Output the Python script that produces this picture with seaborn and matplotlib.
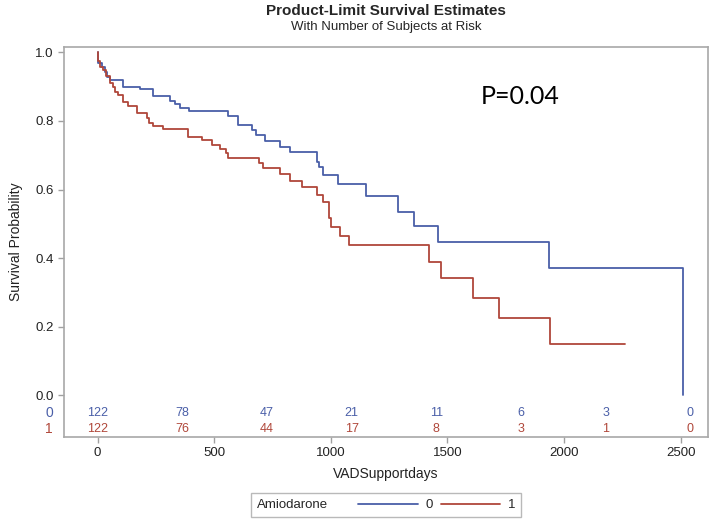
import pandas as pd
import seaborn as sns
import matplotlib.pyplot as plt
from matplotlib.lines import Line2D
from matplotlib.offsetbox import HPacker

# Kaplan-Meier steps (day, survival after the step)
days_0 = [0, 1, 3, 17, 31, 42, 53, 111, 182, 236, 311, 332, 354, 393, 558, 600, 661, 679,
          718, 782, 825, 939, 951, 965, 1032, 1150, 1287, 1356, 1461, 1934, 2510]
surv_0 = [1.0, 0.987, 0.968, 0.958, 0.943, 0.929, 0.919, 0.90, 0.892, 0.872, 0.859, 0.849,
          0.838, 0.828, 0.814, 0.787, 0.774, 0.759, 0.742, 0.723, 0.708, 0.681, 0.667, 0.641,
          0.616, 0.581, 0.535, 0.493, 0.446, 0.371, 0.0]

days_1 = [0, 1, 10, 24, 38, 53, 67, 75, 89, 111, 132, 168, 211, 222, 239, 282, 389, 446,
          489, 525, 549, 561, 694, 711, 782, 825, 875, 939, 965, 993, 1000, 1039, 1079,
          1420, 1474, 1609, 1721, 1938, 2259]
surv_1 = [1.0, 0.973, 0.958, 0.948, 0.931, 0.91, 0.898, 0.885, 0.876, 0.856, 0.842, 0.822,
          0.808, 0.795, 0.786, 0.777, 0.754, 0.745, 0.73, 0.717, 0.706, 0.693, 0.677, 0.664,
          0.645, 0.626, 0.607, 0.584, 0.563, 0.516, 0.492, 0.465, 0.437, 0.39, 0.342, 0.285,
          0.225, 0.151, 0.151]

# number at risk table
risk_days = [0, 363, 726, 1089, 1452, 1815, 2178, 2541]
risk_0 = [122, 78, 47, 21, 11, 6, 3, 0]
risk_1 = [122, 76, 44, 17, 8, 3, 1, 0]

groups = ['0', '1']
colors = {'0': '#4A5FA8', '1': '#B0473A'}

df = pd.concat([
    pd.DataFrame({'VADSupportdays': days_0, 'Survival': surv_0, 'Amiodarone': '0'}),
    pd.DataFrame({'VADSupportdays': days_1, 'Survival': surv_1, 'Amiodarone': '1'}),
])

sns.set_style('white')
plt.rcParams['font.family'] = ['Liberation Sans', 'DejaVu Sans']

fig = plt.figure(figsize=(7.09, 5.26), dpi=100)
ax = fig.add_axes([0.0903, 0.1698, 0.9083, 0.7414])

sns.lineplot(data=df, x='VADSupportdays', y='Survival', hue='Amiodarone',
             palette=colors, estimator=None, drawstyle='steps-post',
             linewidth=1.3, ax=ax, legend=False)

ax.set_xlim(-144, 2617)
ax.set_ylim(-0.12, 1.016)
ax.set_xticks([0, 500, 1000, 1500, 2000, 2500])
ax.set_yticks([0.0, 0.2, 0.4, 0.6, 0.8, 1.0])
ax.set_yticklabels(['0.0', '0.2', '0.4', '0.6', '0.8', '1.0'])
ax.tick_params(axis='both', length=4, width=1, color='#A0A0A0', labelsize=9.5,
               labelcolor='#222222', direction='out', bottom=True, left=True)
for s in ax.spines.values():
    s.set_color('#A8A8A8')
    s.set_linewidth(1.2)
ax.set_xlabel('VADSupportdays', fontsize=10, color='#222222', labelpad=6)
ax.set_ylabel('Survival Probability', fontsize=10, color='#222222', labelpad=9)

# at-risk rows
for g, counts, yrow in [('0', risk_0, -0.052), ('1', risk_1, -0.098)]:
    for d, n in zip(risk_days, counts):
        ax.text(d, yrow, str(n), color=colors[g], fontsize=9, ha='center', va='center')
    ax.text(-0.023, yrow, g, color=colors[g], fontsize=10, ha='center', va='center',
            transform=ax.get_yaxis_transform())

ax.text(1811, 0.87, 'P=0.04', fontsize=18, family=['Lato', 'DejaVu Sans'],
        ha='center', va='center', color='black')

# titles
cx = 0.0903 + 0.9083 / 2
fig.text(cx, 1 - 11 / 526, 'Product-Limit Survival Estimates', ha='center', va='center',
         fontsize=11, fontweight='bold')
fig.text(cx, 1 - 27 / 526, 'With Number of Subjects at Risk', ha='center', va='center',
         fontsize=9.5)

# legend with the title placed to the left of the entries
handles = [Line2D([], [], color=colors[g], lw=1.3) for g in groups]
leg = fig.legend(handles, groups, title='Amiodarone', ncol=2, loc='center',
                 bbox_to_anchor=(cx, 1 - 505 / 526), frameon=True, fancybox=False,
                 fontsize=9.5, title_fontsize=9.5, handlelength=4.5, handletextpad=0.6,
                 columnspacing=0.6, borderpad=0.45)
leg.get_frame().set_edgecolor('#A8A8A8')
leg.get_frame().set_linewidth(1.0)
box = leg._legend_box
title_box, entries = box.get_children()
box._children = [HPacker(children=[title_box, entries], align='center', pad=0, sep=22)]

fig.savefig('out.png', dpi=100)
